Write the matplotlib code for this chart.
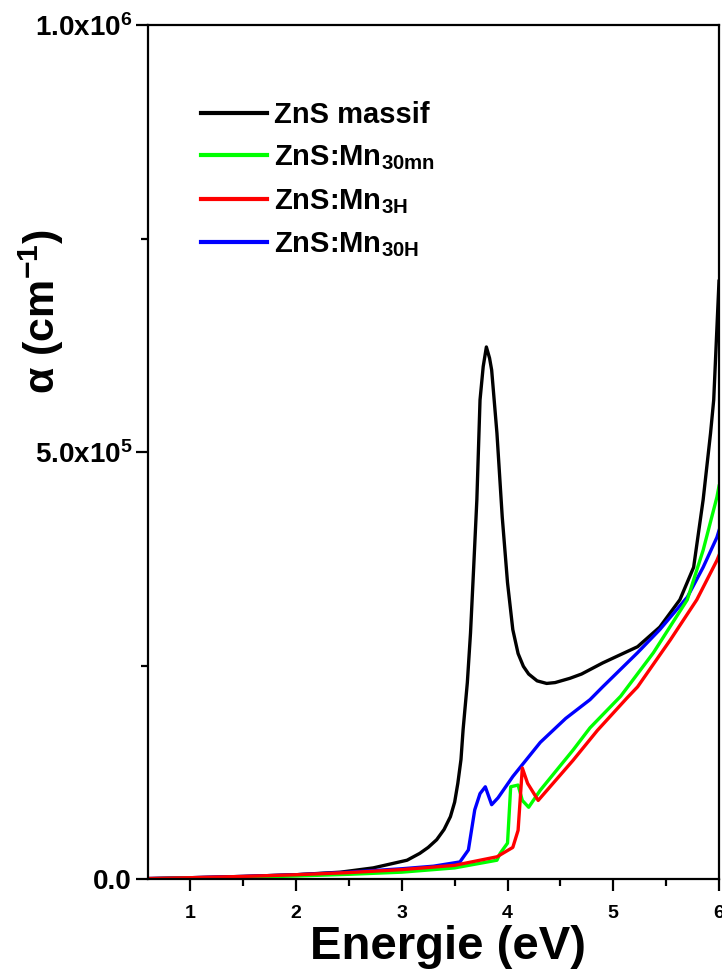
import matplotlib
matplotlib.use("Agg")
import matplotlib.pyplot as plt
from matplotlib.ticker import FixedLocator, FuncFormatter, MultipleLocator

plt.rcParams['font.family'] = ['Liberation Sans', 'DejaVu Sans']
plt.rcParams['font.weight'] = 'bold'
plt.rcParams['mathtext.fontset'] = 'custom'
plt.rcParams['mathtext.rm'] = 'Liberation Sans:bold'
plt.rcParams['mathtext.it'] = 'Liberation Sans:bold'
plt.rcParams['mathtext.bf'] = 'Liberation Sans:bold'
plt.rcParams['mathtext.default'] = 'rm'

# ---- data (energy in eV, alpha in cm^-1) ----
massif_x = [0.6, 1.0, 1.5, 2.0, 2.42, 2.73, 3.05, 3.17, 3.25, 3.33, 3.40, 3.46, 3.50,
            3.53, 3.56, 3.58, 3.62, 3.65, 3.68, 3.71, 3.74, 3.77, 3.80, 3.83, 3.85,
            3.90, 3.95, 4.00, 4.05, 4.10, 4.15, 4.20, 4.28, 4.37, 4.45, 4.59, 4.70,
            4.90, 5.23, 5.44, 5.63, 5.76, 5.85, 5.92, 5.95, 6.0]
massif_y = [500, 1500, 3000, 5000, 8000, 13000, 22000, 30000, 37000, 46000, 58000,
            73000, 90000, 112000, 140000, 175000, 230000, 288000, 365000, 444000,
            561000, 600000, 623000, 610000, 596000, 522000, 424000, 347000, 292000,
            264000, 249000, 240000, 232000, 229000, 230000, 235000, 240000, 253000,
            272000, 295000, 327000, 365000, 444000, 522000, 561000, 700000]

mn30h_x = [0.6, 1.0, 1.5, 2.0, 2.5, 3.0, 3.3, 3.55, 3.63, 3.69, 3.74, 3.79, 3.85, 3.91,
           4.05, 4.31, 4.55, 4.78, 4.90, 5.23, 5.44, 5.70, 5.85, 5.98, 6.0]
mn30h_y = [500, 1500, 3000, 5000, 8000, 12000, 15000, 20000, 34000, 81000, 100000,
           108000, 87000, 95000, 120000, 160000, 188000, 210000, 225000, 265000,
           292000, 330000, 365000, 400000, 408000]

mn30mn_x = [0.6, 1.0, 1.5, 2.0, 2.5, 3.0, 3.5, 3.9, 3.93, 4.0, 4.03, 4.10, 4.14, 4.20,
            4.31, 4.62, 4.78, 5.07, 5.38, 5.70, 5.85, 5.98, 6.0]
mn30mn_y = [300, 1000, 2000, 3500, 5500, 8000, 13000, 22000, 30000, 42000, 108000,
            110000, 92000, 84000, 104000, 151000, 177000, 214000, 265000, 327000,
            385000, 447000, 460000]

mn3h_x = [0.6, 1.0, 1.5, 2.0, 2.5, 3.0, 3.5, 3.9, 4.05, 4.10, 4.14, 4.19, 4.29, 4.62,
          4.85, 5.13, 5.23, 5.54, 5.79, 5.98, 6.0]
mn3h_y = [500, 1500, 3000, 5000, 7500, 11000, 16000, 26000, 37000, 57000, 130000,
          112000, 92000, 139000, 174000, 212000, 225000, 280000, 327000, 373000, 379000]

labels = ['ZnS massif', r'ZnS:Mn$_{30mn}$', r'ZnS:Mn$_{3H}$', r'ZnS:Mn$_{30H}$']
colors = ['#000000', '#00ff00', '#ff0000', '#0000ff']

x_ticks = [1, 2, 3, 4, 5, 6]
y_ticks = [0.0, 5.0e5, 1.0e6]
y_ticklabels = ['0.0', r'5.0x10$^{5}$', r'1.0x10$^{6}$']

fig = plt.figure(figsize=(7.22, 9.71), dpi=100)
ax = fig.add_axes([148 / 722, 1 - 879 / 971, 571 / 722, (879 - 25) / 971])

lw = 2.4
h_black, = ax.plot(massif_x, massif_y, color=colors[0], lw=lw, label=labels[0])
h_blue, = ax.plot(mn30h_x, mn30h_y, color=colors[3], lw=lw, label=labels[3])
h_green, = ax.plot(mn30mn_x, mn30mn_y, color=colors[1], lw=lw, label=labels[1])
h_red, = ax.plot(mn3h_x, mn3h_y, color=colors[2], lw=lw, label=labels[2])

ax.set_xlim(0.6, 6.0)
ax.set_ylim(0, 1.0e6)

ax.xaxis.set_major_locator(FixedLocator(x_ticks))
ax.xaxis.set_minor_locator(MultipleLocator(0.5))
ax.yaxis.set_major_locator(FixedLocator(y_ticks))
ax.yaxis.set_major_formatter(FuncFormatter(lambda v, p: y_ticklabels[y_ticks.index(v)] if v in y_ticks else ''))
ax.yaxis.set_minor_locator(MultipleLocator(2.5e5))

for s in ax.spines.values():
    s.set_linewidth(1.6)

ax.tick_params(axis='both', which='major', direction='out', length=8.5, width=1.6)
ax.tick_params(axis='both', which='minor', direction='out', length=5, width=1.6)
ax.tick_params(axis='x', labelsize=14, pad=10)
ax.tick_params(axis='y', labelsize=20, pad=3)
for t in ax.get_xticklabels() + ax.get_yticklabels():
    t.set_fontweight('bold')

ax.set_xlabel('Energie (eV)', fontsize=34, fontweight='bold')
ax.xaxis.set_label_coords(0.526, -0.054)
ax.set_ylabel(r'α (cm$^{-1}$)', fontsize=31, fontweight='bold')
ax.yaxis.set_label_coords(-0.143, 0.665)

leg = ax.legend(handles=[h_black, h_green, h_red, h_blue], labels=labels,
                loc='upper left', bbox_to_anchor=(0.047, 0.942), frameon=False,
                prop={'size': 21, 'weight': 'bold'}, handlelength=2.25,
                handletextpad=0.25, labelspacing=0.5)
for l in leg.get_lines():
    l.set_linewidth(3)

fig.savefig('out.png', dpi=100)
